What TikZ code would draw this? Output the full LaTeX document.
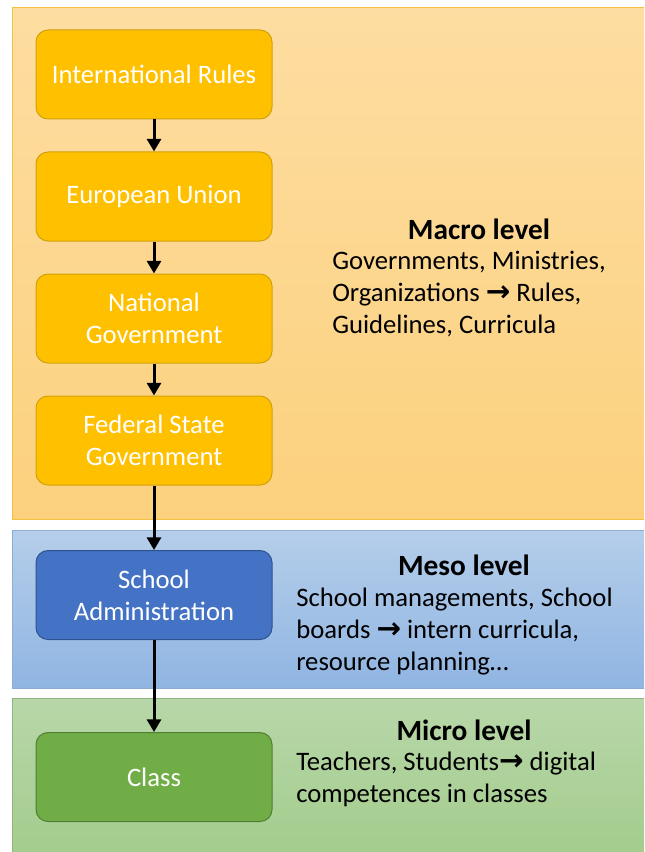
\documentclass[tikz,border=0pt]{standalone}
\usepackage{fontspec}
\setmainfont{Carlito}
\newfontfamily\arrowfont{DejaVu Sans}
\usetikzlibrary{arrows.meta}

\definecolor{macrotop}{HTML}{FDDDA1}
\definecolor{macrobottom}{HTML}{FCD17E}
\definecolor{macroline}{HTML}{F4C13E}
\definecolor{mesotop}{HTML}{B5CEEA}
\definecolor{mesobottom}{HTML}{90B5E2}
\definecolor{mesoline}{HTML}{8EACD8}
\definecolor{microtop}{HTML}{B8D7A9}
\definecolor{microbottom}{HTML}{9DC985}
\definecolor{microline}{HTML}{90B47C}
\definecolor{boxyellow}{HTML}{FFC000}
\definecolor{boxyellowline}{HTML}{D2A20E}
\definecolor{boxblue}{HTML}{4472C4}
\definecolor{boxblueline}{HTML}{2F528F}
\definecolor{boxgreen}{HTML}{70AD47}
\definecolor{boxgreenline}{HTML}{507E32}

\newcommand{\goesto}{{\arrowfont\fontsize{22}{24}\selectfont\textbf{→}}}

\begin{document}
\begin{tikzpicture}[x=0.75pt,y=-0.75pt,node distance=91.5pt,>={Triangle[length=9.5pt,width=10.5pt]},font=\fontsize{20}{24}\selectfont]
		\tikzstyle{band}=[line width=0.75pt]
		\tikzstyle{box}=[rectangle, rounded corners=9pt, line width=0.75pt, minimum width=177pt, minimum height=66.75pt, text=white, align=center]
		\tikzstyle{yellow box}=[box, fill=boxyellow, draw=boxyellowline]
		\tikzstyle{blue box}=[box, fill=boxblue, draw=boxblueline]
		\tikzstyle{green box}=[box, fill=boxgreen, draw=boxgreenline]
		\tikzstyle{level title}=[font=\fontsize{22}{26}\selectfont\bfseries]
		\tikzstyle{level text}=[anchor=west, align=left, inner sep=0pt]
		\tikzstyle{flow}=[->, line width=2.25pt]

		% level bands (they run off the right and bottom edge)
		\begin{scope}
			\clip (0,0) rectangle (644,852);
			\draw [band, draw=macroline, top color=macrotop, bottom color=macrobottom] (12,8) rectangle (700,519);
			\draw [band, draw=mesoline, top color=mesotop, bottom color=mesobottom] (12,530) rectangle (700,688);
			\draw [band, draw=microline, top color=microtop, bottom color=microbottom] (12,698) rectangle (700,900);
		\end{scope}

		% hierarchy
		\node [yellow box] (intl) at (154,74.5) {International Rules};
		\node [yellow box] (eu) [below of=intl] {European Union};
		\node [yellow box] (natgov) [below of=eu] {National\\Government};
		\node [yellow box] (fedgov) [below of=natgov] {Federal State\\Government};
		\node [blue box] (school) [below of=fedgov, node distance=115.9pt] {School\\Administration};
		\node [green box] (class) [below of=school, node distance=136.5pt] {Class};

		\draw [flow] (intl) -- (eu);
		\draw [flow] (eu) -- (natgov);
		\draw [flow] (natgov) -- (fedgov);
		\draw [flow] (fedgov) -- (school);
		\draw [flow] (school) -- (class);

		% descriptions
		\node [level title] (macro) at (479,229) {Macro level};
		\node [level text] (macrotext) at (332,294) {Governments, Ministries,\\Organizations \goesto{} Rules,\\Guidelines, Curricula};
		\node [level title] (meso) at (464,565) {Meso level};
		\node [level text] (mesotext) at (296,632) {School managements, School\\boards \goesto{} intern curricula,\\resource planning…};
		\node [level title] (micro) at (464,730) {Micro level};
		\node [level text] (microtext) at (296,779) {Teachers, Students\goesto{} digital\\competences in classes};

		\pgfresetboundingbox
		\useasboundingbox (0,0) rectangle (644,852);
	\end{tikzpicture}
\end{document}
